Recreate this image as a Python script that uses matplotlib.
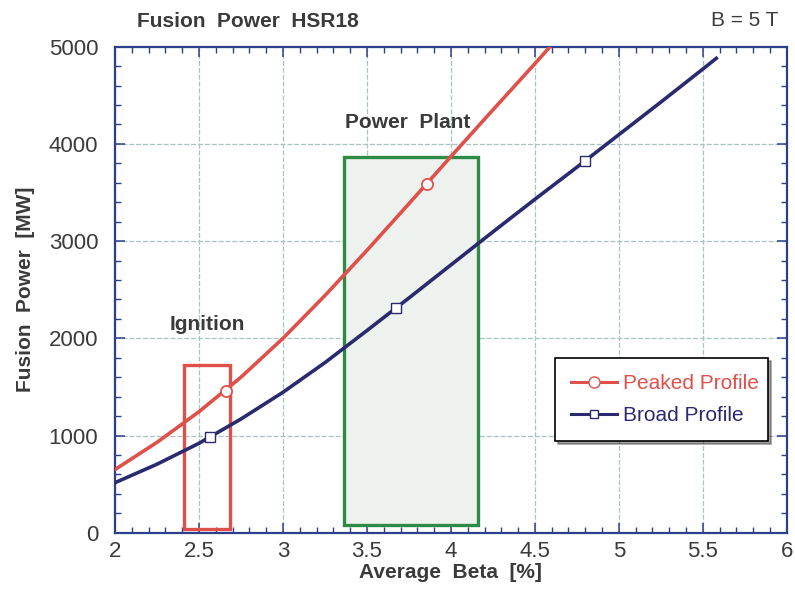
import numpy as np
import matplotlib
matplotlib.use('Agg')
import matplotlib.pyplot as plt
from matplotlib.patches import Rectangle
from matplotlib.ticker import MultipleLocator

plt.rcParams['font.family'] = ['Liberation Sans', 'DejaVu Sans']

# curves (average beta [%], fusion power [MW])
peaked_beta = [2.0, 2.25, 2.5, 2.75, 3.0, 3.25, 3.5, 3.75, 4.0, 4.25, 4.5, 4.59]
peaked_power = [650, 930, 1245, 1600, 2000, 2440, 2905, 3385, 3870, 4350, 4825, 5000]
broad_beta = [2.0, 2.25, 2.5, 2.75, 3.0, 3.25, 3.5, 3.75, 4.0, 4.25, 4.5, 4.75, 5.0, 5.25, 5.5, 5.58]
broad_power = [515, 705, 920, 1170, 1445, 1750, 2080, 2415, 2755, 3095, 3430, 3760, 4095, 4430, 4770, 4880]

# marked points
peaked_mark_beta = [2.66, 3.86]
peaked_mark_power = [1461, 3590]
broad_mark_beta = [2.566, 3.672, 4.8]
broad_mark_power = [988, 2309, 3820]

# operating windows (beta_min, beta_max, power_min, power_max)
ignition_box = (2.41, 2.685, 40, 1725)
plant_box = (3.364, 4.164, 80, 3862)

red = '#e0504a'
navy = '#2b2a6e'
green = '#2e8b45'
axcol = '#2c3f8c'
txt = '#3a3a3a'

fig = plt.figure(figsize=(7.95, 5.91), dpi=100)
ax = fig.add_axes([0.1447, 0.0986, 0.845, 0.8224])

# windows
b = plant_box
ax.add_patch(Rectangle((b[0], b[2]), b[1] - b[0], b[3] - b[2], facecolor='#eef2ee',
                       edgecolor=green, lw=2.4, zorder=2))
b = ignition_box
ax.add_patch(Rectangle((b[0], b[2]), b[1] - b[0], b[3] - b[2], facecolor='none',
                       edgecolor=red, lw=2.4, zorder=2))

ax.plot(peaked_beta, peaked_power, color=red, lw=2.6, zorder=3, solid_joinstyle='round')
ax.plot(broad_beta, broad_power, color=navy, lw=2.6, zorder=3, solid_joinstyle='round')
ax.plot(peaked_mark_beta, peaked_mark_power, 'o', ms=8, mfc='white', mec=red, mew=1.3, zorder=4)
ax.plot(broad_mark_beta, broad_mark_power, 's', ms=7, mfc='white', mec=navy, mew=1.0, zorder=4)

# legend proxies
h1, = ax.plot([], [], '-o', color=red, lw=2.2, ms=8, mfc='white', mec=red)
h2, = ax.plot([], [], '-s', color=navy, lw=2.2, ms=6, mfc='white', mec=navy)
leg = ax.legend([h1, h2], ['Peaked Profile', 'Broad Profile'], loc='upper left',
                bbox_to_anchor=(0.655, 0.19, 0.317, 0.169), mode='expand',
                fontsize=15, frameon=True, fancybox=False, shadow={'color': '#444444'},
                handlelength=2.2, handletextpad=0.3, borderpad=0.75, labelspacing=0.65,
                borderaxespad=0)
leg.get_frame().set_edgecolor('black')
leg.get_frame().set_linewidth(1.2)
for t, c in zip(leg.get_texts(), [red, navy]):
    t.set_color(c)

ax.set_xlim(2, 6)
ax.set_ylim(0, 5000)
ax.xaxis.set_major_locator(MultipleLocator(0.5))
ax.xaxis.set_minor_locator(MultipleLocator(0.1))
ax.yaxis.set_major_locator(MultipleLocator(1000))
ax.yaxis.set_minor_locator(MultipleLocator(200))
ax.set_xticks(np.arange(2, 6.01, 0.5))
ax.set_xticklabels(['2', '2.5', '3', '3.5', '4', '4.5', '5', '5.5', '6'])
ax.grid(True, which='major', color='#a9c3c3', lw=0.9, ls=(0, (4, 1.5)), zorder=1)
ax.tick_params(which='both', direction='in', top=True, right=True, color=axcol,
               labelsize=16, labelcolor=txt)
ax.tick_params(axis='x', pad=6)
ax.tick_params(axis='y', pad=12)
ax.tick_params(which='major', length=7, width=1.1)
ax.tick_params(which='minor', length=4, width=1.0)
for s in ax.spines.values():
    s.set_color(axcol)
    s.set_linewidth(1.6)

ax.set_xlabel('Average  Beta  [%]', fontsize=15, fontweight='bold', color=txt, labelpad=1)
ax.set_ylabel('Fusion  Power  [MW]', fontsize=15, fontweight='bold', color=txt, labelpad=10)

ax.text(3.74, 4225, 'Power  Plant', fontsize=15, fontweight='bold', color=txt, ha='center', va='center')
ax.text(2.55, 2147, 'Ignition', fontsize=15, fontweight='bold', color=txt, ha='center', va='center')
fig.text(0.312, 0.963, 'Fusion  Power  HSR18', fontsize=15, fontweight='bold', color=txt,
         ha='center', va='center')
fig.text(0.937, 0.965, 'B = 5 T', fontsize=15, color=txt, ha='center', va='center')

fig.savefig('out.png', dpi=100)
